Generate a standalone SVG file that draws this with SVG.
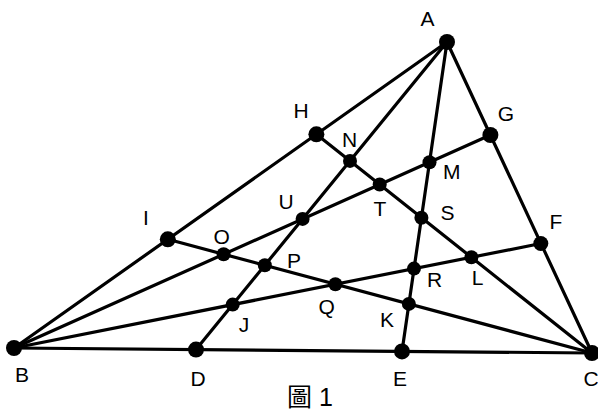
<svg xmlns="http://www.w3.org/2000/svg" width="598" height="412" viewBox="0 0 598 412">
<style>
.ln{stroke:#000;stroke-width:3.2;stroke-linecap:round;fill:none}
.pt{fill:#000}
.lb{font-family:"Liberation Sans",Arial,sans-serif;font-size:21px;fill:#000;text-anchor:middle}
.cap{font-family:"Liberation Sans","Noto Sans CJK TC",sans-serif;font-size:25px;fill:#000}
</style>
<rect width="598" height="412" fill="#fff"/>
<g id="connectors">
<line class="ln" x1="447" y1="42" x2="14" y2="348"/>
<line class="ln" x1="447" y1="42" x2="592" y2="353"/>
<line class="ln" x1="14" y1="348" x2="592" y2="353"/>
<line class="ln" x1="447" y1="42" x2="196" y2="349.6"/>
<line class="ln" x1="447" y1="42" x2="402" y2="351.4"/>
<line class="ln" x1="14" y1="348" x2="490.4" y2="135"/>
<line class="ln" x1="14" y1="348" x2="540.8" y2="243.5"/>
<line class="ln" x1="592" y1="353" x2="316.4" y2="134.3"/>
<line class="ln" x1="592" y1="353" x2="167.8" y2="239.3"/>
</g>
<g id="A"><circle class="pt" cx="447" cy="42" r="8"/><text class="lb" x="427.5" y="26">A</text></g>
<g id="B"><circle class="pt" cx="14" cy="348" r="8"/><text class="lb" x="22" y="381.5">B</text></g>
<g id="C"><circle class="pt" cx="592" cy="353" r="8"/><text class="lb" x="591" y="386">C</text></g>
<g id="D"><circle class="pt" cx="196" cy="349.6" r="8"/><text class="lb" x="198" y="386">D</text></g>
<g id="E"><circle class="pt" cx="402" cy="351.4" r="8"/><text class="lb" x="400" y="385.5">E</text></g>
<g id="F"><circle class="pt" cx="540.8" cy="243.5" r="7.5"/><text class="lb" x="556" y="228.5">F</text></g>
<g id="G"><circle class="pt" cx="490.4" cy="135" r="8"/><text class="lb" x="506" y="120.5">G</text></g>
<g id="H"><circle class="pt" cx="316.4" cy="134.3" r="8"/><text class="lb" x="301" y="118.3">H</text></g>
<g id="I"><circle class="pt" cx="167.8" cy="239.3" r="8"/><text class="lb" x="146" y="225">I</text></g>
<g id="J"><circle class="pt" cx="232.7" cy="304.6" r="7"/><text class="lb" x="244" y="331.5">J</text></g>
<g id="K"><circle class="pt" cx="408.9" cy="303.9" r="7"/><text class="lb" x="387" y="326.7">K</text></g>
<g id="L"><circle class="pt" cx="471.4" cy="257.3" r="7"/><text class="lb" x="477.7" y="285">L</text></g>
<g id="M"><circle class="pt" cx="429.5" cy="162.2" r="7"/><text class="lb" x="451.7" y="179.3">M</text></g>
<g id="N"><circle class="pt" cx="350" cy="160.9" r="7"/><text class="lb" x="349.7" y="146.7">N</text></g>
<g id="O"><circle class="pt" cx="223.6" cy="254.3" r="7"/><text class="lb" x="221.7" y="244.3">O</text></g>
<g id="P"><circle class="pt" cx="264.8" cy="265.3" r="7"/><text class="lb" x="294" y="268.3">P</text></g>
<g id="Q"><circle class="pt" cx="335.4" cy="284.2" r="7"/><text class="lb" x="326.7" y="313.5">Q</text></g>
<g id="R"><circle class="pt" cx="414" cy="268.6" r="7"/><text class="lb" x="434.5" y="286.6">R</text></g>
<g id="S"><circle class="pt" cx="421.4" cy="217.7" r="7"/><text class="lb" x="447.5" y="220">S</text></g>
<g id="T"><circle class="pt" cx="379.7" cy="184.5" r="7"/><text class="lb" x="380" y="215.7">T</text></g>
<g id="U"><circle class="pt" cx="302.6" cy="218.9" r="7"/><text class="lb" x="286" y="209">U</text></g>
<text class="cap" x="287" y="406">圖 1</text>
</svg>
